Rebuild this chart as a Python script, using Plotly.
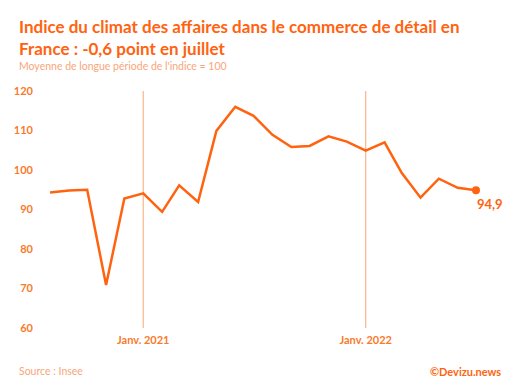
import plotly.graph_objects as go

months = ["2020-08-01", "2020-09-01", "2020-10-01", "2020-11-01", "2020-12-01",
          "2021-01-01", "2021-02-01", "2021-03-01", "2021-04-01", "2021-05-01",
          "2021-06-01", "2021-07-01", "2021-08-01", "2021-09-01", "2021-10-01",
          "2021-11-01", "2021-12-01", "2022-01-01", "2022-02-01", "2022-03-01",
          "2022-04-01", "2022-05-01", "2022-06-01", "2022-07-01"]
values = [94.3, 94.8, 95.0, 70.9, 92.8,
          94.1, 89.4, 96.1, 91.9, 109.9,
          116.0, 113.7, 108.9, 105.8, 106.1,
          108.5, 107.2, 104.9, 107.0, 99.3,
          93.0, 97.8, 95.5, 94.9]
x_tickvals = ["2021-01-01", "2022-01-01"]
x_ticktext = ["Janv. 2021", "Janv. 2022"]
y_tickvals = [60, 70, 80, 90, 100, 110, 120]
last_label = "94,9"

ORANGE = "#FF6310"
TICK = "#F97A2C"
LIGHT = "#F9A57A"
VLINE = "#FBB48C"
FONT = "Lato"

fig = go.Figure()
for xv in x_tickvals:
    fig.add_shape(type="line", xref="x", yref="paper", x0=xv, x1=xv, y0=0, y1=1,
                  line=dict(color=VLINE, width=1.2), layer="below")
fig.add_trace(go.Scatter(x=months, y=values, mode="lines",
                         line=dict(color=ORANGE, width=2.5), hoverinfo="skip",
                         showlegend=False))
fig.add_trace(go.Scatter(x=[months[-1]], y=[values[-1]], mode="markers",
                         marker=dict(color=ORANGE, size=8),
                         cliponaxis=False, showlegend=False, hoverinfo="skip"))

LX = (16.7 - 50) / 426
fig.update_layout(
    width=520, height=390,
    margin=dict(l=50, r=44, t=91, b=62),
    paper_bgcolor="white", plot_bgcolor="white",
    font=dict(family=FONT, color=TICK),
    xaxis=dict(type="date", range=[months[0], months[-1]],
               tickvals=x_tickvals, ticktext=x_ticktext,
               showgrid=False, zeroline=False, showline=False, ticks="",
               ticklabelstandoff=4,
               tickfont=dict(family=FONT, size=11, color=TICK, weight="bold")),
    yaxis=dict(range=[60, 120], tickvals=y_tickvals,
               showgrid=False, zeroline=False, showline=False, ticks="",
               ticklabelstandoff=16,
               tickfont=dict(family=FONT, size=11, color=TICK, weight="bold")),
    annotations=[
        dict(text="<b>" + last_label + "</b>", x=months[-1], y=values[-1],
             xref="x", yref="y", xanchor="left", yanchor="middle",
             xshift=-1, yshift=-14, showarrow=False,
             font=dict(family=FONT, size=13, color=ORANGE)),
        dict(text="<b>Indice du climat des affaires dans le commerce de détail en</b>",
             xref="paper", yref="paper", x=LX, y=1 + (91 - 26.7) / 237,
             xanchor="left", yanchor="middle", showarrow=False,
             font=dict(family=FONT, size=17, color=ORANGE)),
        dict(text="<b>France : -0,6 point en juillet</b>",
             xref="paper", yref="paper", x=LX, y=1 + (91 - 49) / 237,
             xanchor="left", yanchor="middle", showarrow=False,
             font=dict(family=FONT, size=17, color=ORANGE)),
        dict(text="Moyenne de longue période de l'indice = 100",
             xref="paper", yref="paper", x=LX, y=1 + (91 - 66) / 237,
             xanchor="left", yanchor="middle", showarrow=False,
             font=dict(family=FONT, size=10.5, color=LIGHT)),
        dict(text="Source : Insee",
             xref="paper", yref="paper", x=LX, y=-(371 - 328) / 237,
             xanchor="left", yanchor="middle", showarrow=False,
             font=dict(family=FONT, size=10.5, color=LIGHT)),
        dict(text="<b>©Devizu.news</b>",
             xref="paper", yref="paper", x=1 + (503 - 476) / 426, y=-(371 - 328) / 237,
             xanchor="right", yanchor="middle", showarrow=False,
             font=dict(family=FONT, size=11, color=ORANGE)),
    ],
)

fig.write_html("out.html")
